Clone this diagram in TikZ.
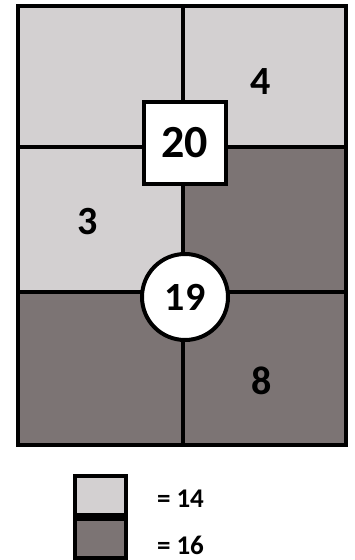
\documentclass[tikz,border=0pt]{standalone}
\usepackage{fontspec}
\setmainfont{Carlito}
\usepackage{tikz}
\definecolor{lightcell}{RGB}{211, 208, 209}
\definecolor{darkcell}{RGB}{124, 116, 116}

\begin{document}
\begin{tikzpicture}[x=1pt, y=-1pt, line width=4pt]
  \tikzset{
    num/.style={font=\bfseries\fontsize{40}{40}\selectfont},
    key/.style={font=\bfseries\fontsize{27}{27}\selectfont, anchor=west, inner sep=1pt}
  }
  \useasboundingbox (0,0) rectangle (354,560);

  % cells
  \fill[lightcell] (18,6) rectangle (183,147);
  \fill[lightcell] (183,6) rectangle (346,147);
  \fill[lightcell] (18,147) rectangle (183,292);
  \fill[darkcell] (183,147) rectangle (346,292);
  \fill[darkcell] (18,292) rectangle (346,445);

  % grid lines
  \draw (183,6) -- (183,445);
  \draw (18,147) -- (346,147);
  \draw (18,292) -- (346,292);
  \draw (18,6) rectangle (346,445);

  % labels in cells
  \node[num] (four) at (261,82) {4};
  \node[num] (three) at (88,222) {3};
  \node[num] (eight) at (262,381) {8};

  % centre square and circle
  \node[num, draw, fill=white, minimum size=82pt, inner sep=0pt,
        font=\bfseries\fontsize{46}{46}\selectfont] (twenty) at (184.5,142.5) {20};
  \node[num, draw, fill=white, circle, minimum size=86pt, inner sep=0pt] (nineteen) at (185,297) {19};

  % legend
  \draw[fill=lightcell] (75,476) rectangle (126,515);
  \draw[fill=darkcell] (75,519) rectangle (126,558);
  \node[key] (fourteen) at (154,499) {= 14};
  \node[key] (sixteen) at (154,545) {= 16};
\end{tikzpicture}
\end{document}
